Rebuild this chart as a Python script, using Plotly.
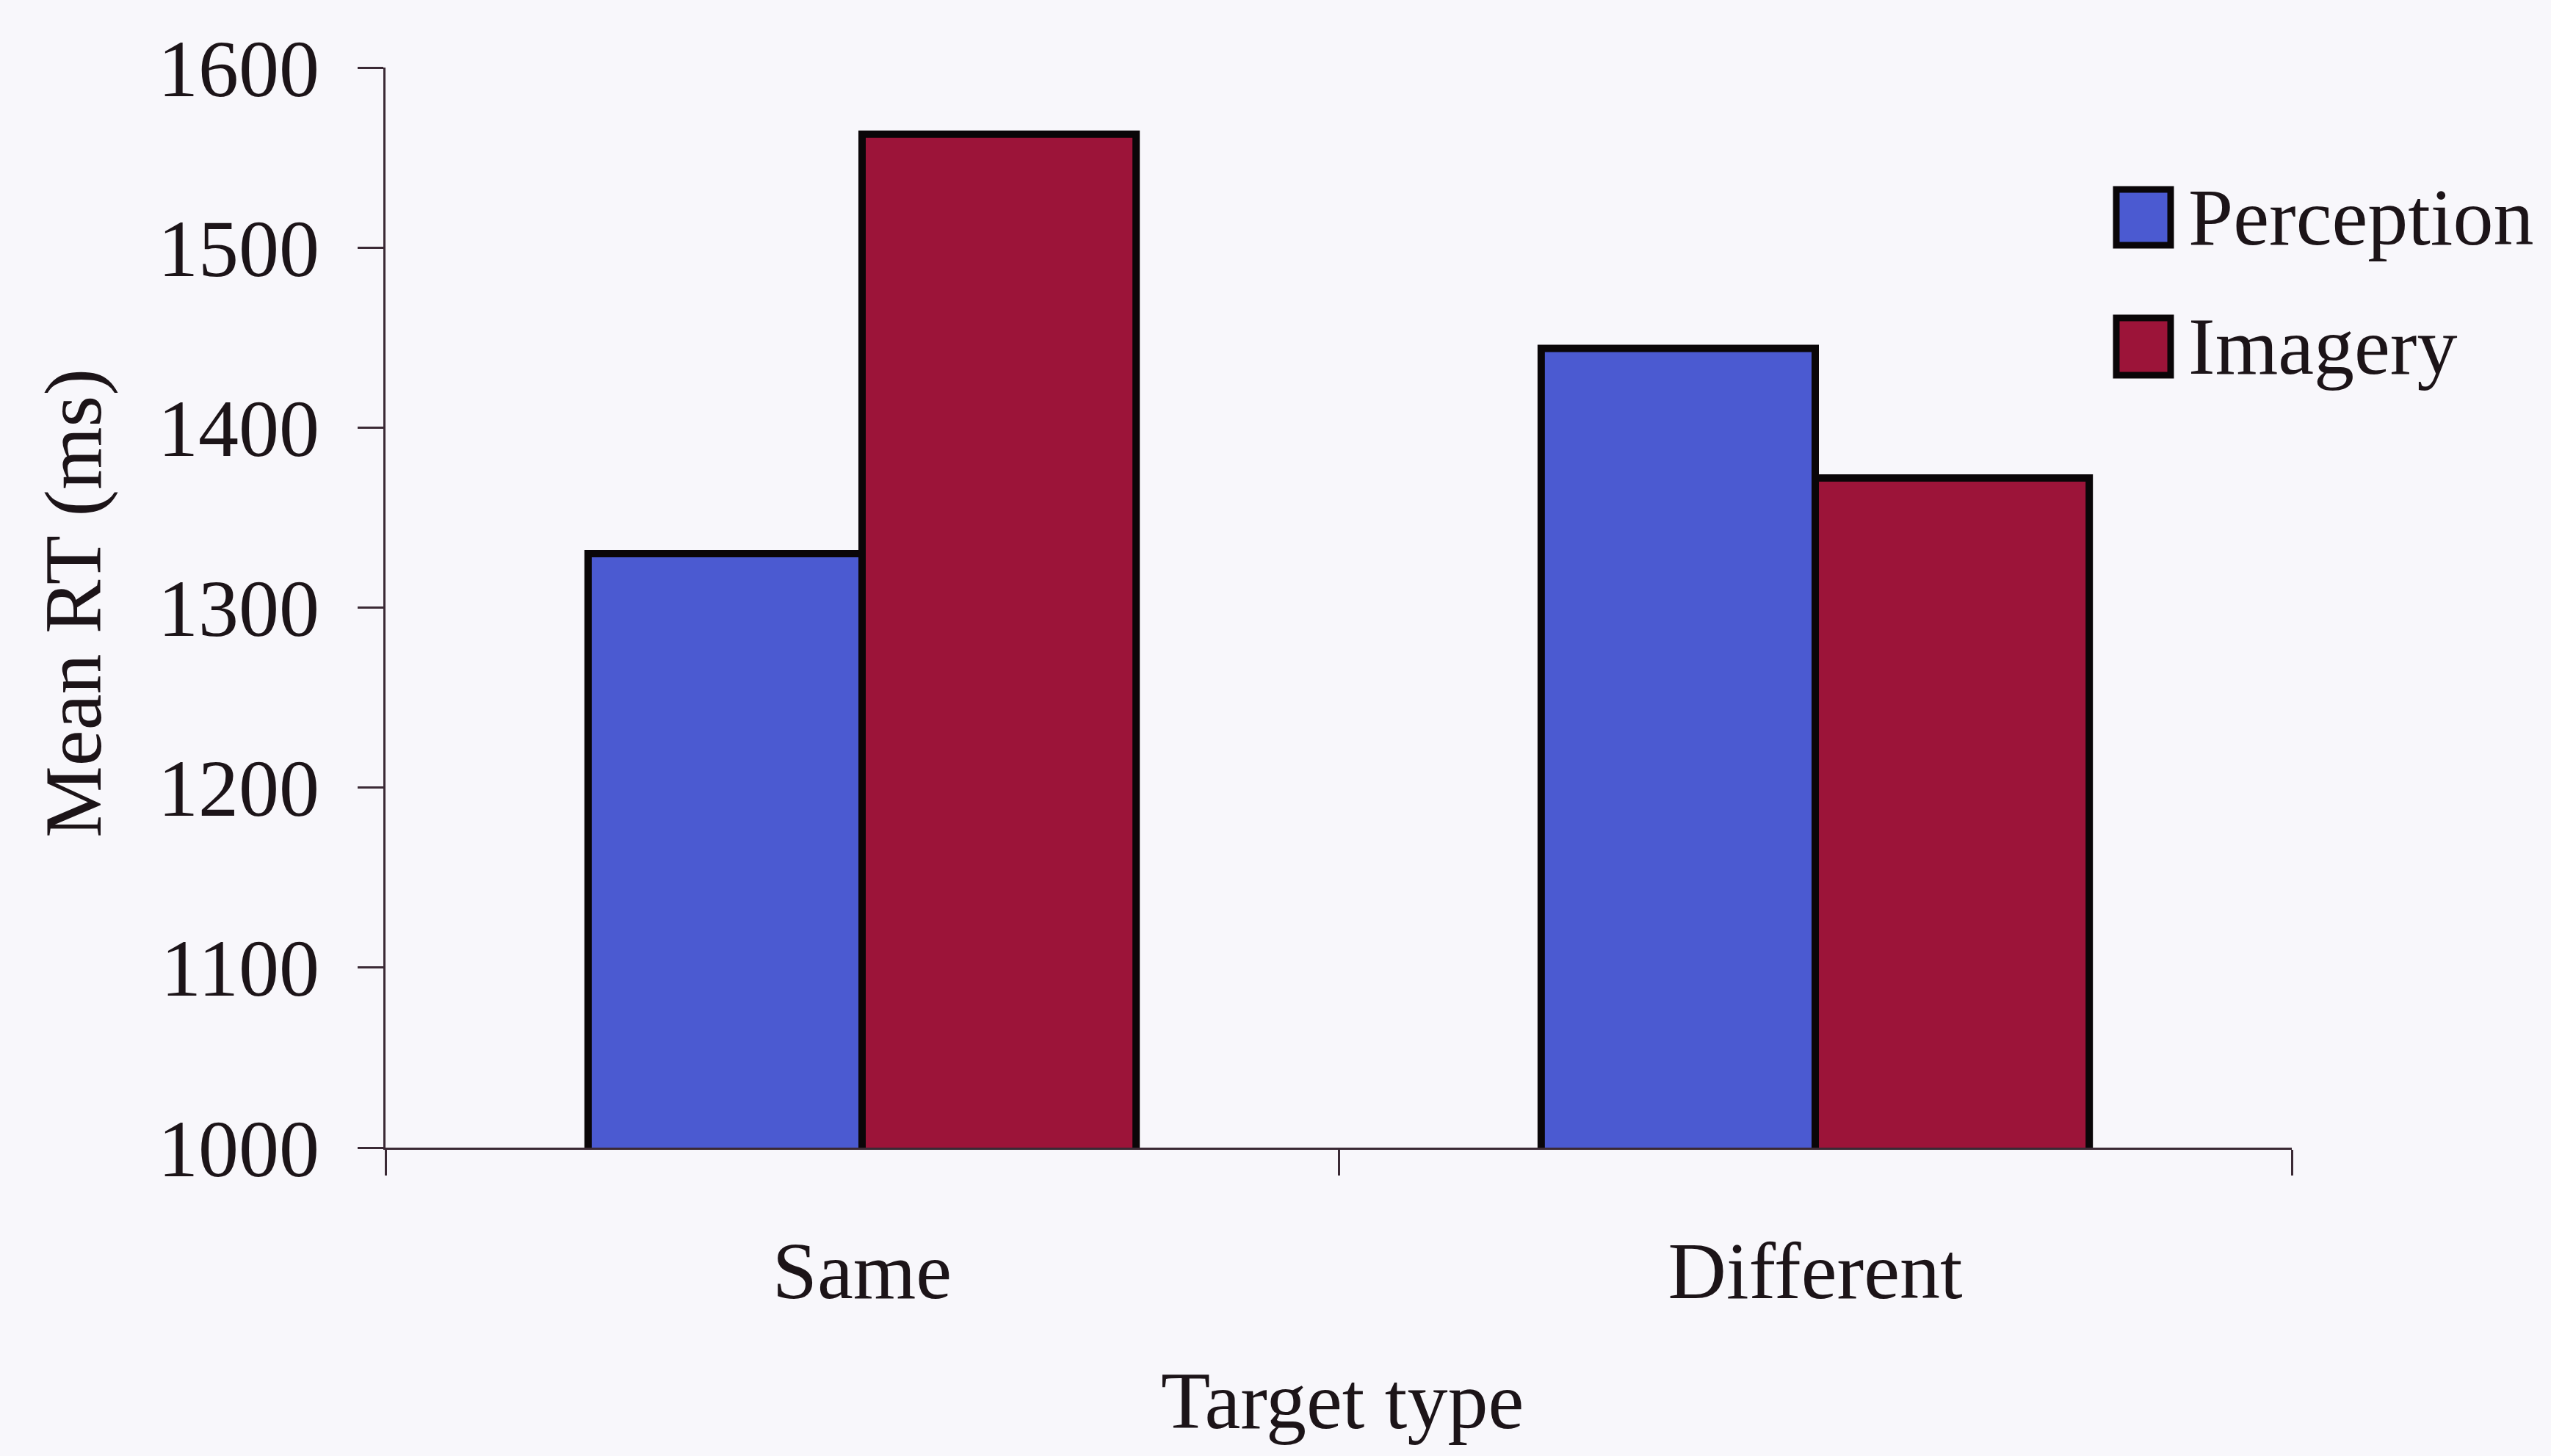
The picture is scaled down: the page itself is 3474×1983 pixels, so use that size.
import plotly.graph_objects as go

# Mean response times by target type and condition
categories = ["Same", "Different"]
series_names = ["Perception", "Imagery"]
perception_rt = [1330, 1444]
imagery_rt = [1563, 1372]
y_ticks = [1000, 1100, 1200, 1300, 1400, 1500, 1600]

colors = {"Perception": "#4b5ad1", "Imagery": "#9c1439"}
ink = "#1c1418"
axis_color = "#3b2a35"
bg = "#f8f7fb"
font_family = "Liberation Serif, Times New Roman, serif"

W, H = 3474, 1983
L, R, T, B = 525, 353, 92, 420
plot_w = W - L - R
plot_h = H - T - B


def px_x(X):
    return (X - L) / plot_w


def px_y(Y):
    return (H - B - Y) / plot_h


fig = go.Figure()
for name, vals in zip(series_names, [perception_rt, imagery_rt]):
    fig.add_trace(go.Bar(
        x=categories, y=vals, name=name,
        marker=dict(color=colors[name], line=dict(color="#0a0608", width=10)),
        showlegend=False,
    ))

# Legend: large outlined swatches with labels
legend_rows = [(258, 334), (433, 511)]
for name, (y0, y1) in zip(series_names, legend_rows):
    fig.add_shape(type="rect", xref="paper", yref="paper",
                  x0=px_x(2882), x1=px_x(2956), y0=px_y(y1), y1=px_y(y0),
                  fillcolor=colors[name], line=dict(color="#0a0608", width=9))
    fig.add_annotation(text=name, xref="paper", yref="paper",
                       x=px_x(2978), y=px_y((y0 + y1) / 2), xanchor="left",
                       yanchor="middle", showarrow=False,
                       font=dict(size=110, color=ink, family=font_family))

# Axis titles
fig.add_annotation(text="Mean RT (ms)", xref="paper", yref="paper",
                   x=px_x(100), y=px_y(822), textangle=-90,
                   xanchor="center", yanchor="middle", showarrow=False,
                   font=dict(size=110, color=ink, family=font_family))
fig.add_annotation(text="Target type", xref="paper", yref="paper",
                   x=px_x(1828), y=px_y(1908), xanchor="center",
                   yanchor="middle", showarrow=False,
                   font=dict(size=110, color=ink, family=font_family))

fig.update_layout(
    width=W, height=H,
    margin=dict(l=L, r=R, t=T, b=B, autoexpand=False),
    paper_bgcolor=bg, plot_bgcolor=bg,
    barmode="group", bargap=0.425, bargroupgap=0,
    font=dict(family=font_family, color=ink, size=110),
    showlegend=False,
)
fig.update_yaxes(
    range=[1000, 1600], tickvals=y_ticks, ticktext=[str(v) for v in y_ticks],
    showgrid=False, zeroline=False, showline=True, linecolor=axis_color,
    linewidth=3, ticks="outside", ticklen=35, tickwidth=3,
    tickcolor=axis_color, ticklabelstandoff=30,
    tickfont=dict(size=110, color=ink, family=font_family),
)
fig.update_xaxes(
    showgrid=False, zeroline=False, showline=True, linecolor=axis_color,
    linewidth=3, ticks="outside", ticklen=35, tickwidth=3,
    tickcolor=axis_color, tickson="boundaries", ticklabelstandoff=70,
    tickfont=dict(size=110, color=ink, family=font_family),
)

fig.write_html("out.html")
